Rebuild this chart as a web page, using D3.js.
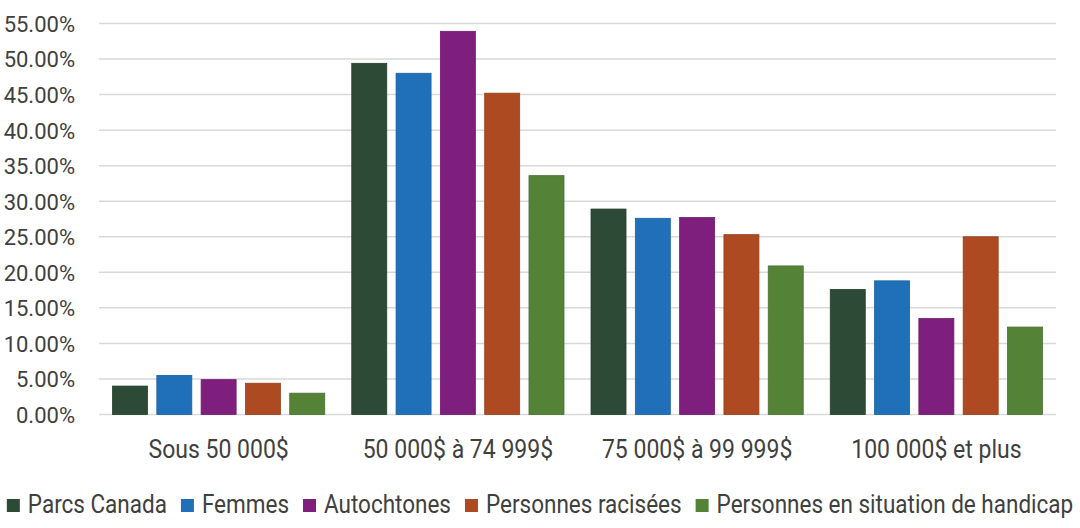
<!DOCTYPE html>
<html>
<head>
<meta charset="utf-8">
<script src="https://cdn.jsdelivr.net/npm/d3@7"></script>
<style>
  body { margin: 0; background: #fff; }
  svg text { font-family: Roboto, "Liberation Sans", sans-serif; fill: #404040; }
</style>
</head>
<body>
<div id="chart"></div>
<script>
// Data
const categories = ['Sous 50 000$', '50 000$ à 74 999$', '75 000$ à 99 999$', '100 000$ et plus'];
const seriesNames = ['Parcs Canada', 'Femmes', 'Autochtones', 'Personnes racisées', 'Personnes en situation de handicap'];
const parcsCanada = [4.0, 49.4, 28.9, 17.6];
const femmes = [5.5, 48.0, 27.6, 18.8];
const autochtones = [4.9, 53.9, 27.7, 13.5];
const racisees = [4.4, 45.2, 25.3, 25.0];
const handicap = [3.0, 33.6, 20.9, 12.3];
const yTicks = [0, 5, 10, 15, 20, 25, 30, 35, 40, 45, 50, 55];

const seriesValues = [parcsCanada, femmes, autochtones, racisees, handicap];
const colors = ['#2C4A35', '#1F70B8', '#7E1F7E', '#AD4A22', '#548237'];

const width = 1080, height = 528;
const margin = { top: 23.5, right: 24, bottom: 113.5, left: 99 };
const catSqueeze = 0.92, legendSqueeze = 0.9; // condensed look

const svg = d3.select('#chart').append('svg')
    .attr('width', width)
    .attr('height', height);

// Scales
const x0 = d3.scaleBand()
    .domain(categories)
    .range([margin.left, width - margin.right])
    .padding(0);

const x1 = d3.scaleBand()
    .domain(seriesNames)
    .range([0, x0.bandwidth()])
    .paddingInner(0.21)
    .paddingOuter(0.305);

const y = d3.scaleLinear()
    .domain([0, 55])
    .range([height - margin.bottom, margin.top]);

// Gridlines
svg.append('g')
    .selectAll('line')
    .data(yTicks)
    .join('line')
    .attr('x1', margin.left)
    .attr('x2', width - margin.right)
    .attr('y1', d => y(d))
    .attr('y2', d => y(d))
    .attr('stroke', '#d9d9d9')
    .attr('stroke-width', 1.5);

// Y axis labels
const yAxis = d3.axisLeft(y)
    .tickValues(yTicks)
    .tickSize(0)
    .tickPadding(24)
    .tickFormat(d => d.toFixed(2) + '%');

svg.append('g')
    .attr('transform', `translate(${margin.left},0)`)
    .call(yAxis)
    .call(g => g.select('.domain').remove())
    .selectAll('text')
    .attr('dy', '0.36em')
    .style('font-size', '22px');

// Bars
const groups = svg.append('g')
    .selectAll('g')
    .data(categories)
    .join('g')
    .attr('transform', d => `translate(${x0(d)},0)`);

groups.selectAll('rect')
    .data((c, ci) => seriesNames.map((s, si) => ({ series: s, value: seriesValues[si][ci], color: colors[si] })))
    .join('rect')
    .attr('x', d => x1(d.series))
    .attr('width', x1.bandwidth())
    .attr('y', d => y(d.value))
    .attr('height', d => y(0) - y(d.value))
    .attr('fill', d => d.color)
    .attr('stroke', d => d3.color(d.color).darker(0.4))
    .attr('stroke-width', 0.8);

// X axis labels
svg.append('g')
    .selectAll('text')
    .data(categories)
    .join('text')
    .attr('transform', d => `translate(${x0(d) + x0.bandwidth() / 2},458) scale(${catSqueeze},1)`)
    .attr('text-anchor', 'middle')
    .style('font-size', '25px')
    .text(d => d);

// Legend
const legend = svg.append('g');
const items = legend.selectAll('g')
    .data(seriesNames)
    .join('g');

items.append('rect')
    .attr('width', 13)
    .attr('height', 13)
    .attr('y', 499)
    .attr('fill', (d, i) => colors[i]);

const legendText = items.append('text')
    .attr('transform', `translate(21,513) scale(${legendSqueeze},1)`)
    .style('font-size', '25px')
    .text(d => d);

let offset = 0;
const positions = [];
legendText.each(function() {
    positions.push(offset);
    offset += 21 + this.getComputedTextLength() * legendSqueeze + 14;
});
const totalWidth = offset - 14;
const startX = (width - totalWidth) / 2;
items.attr('transform', (d, i) => `translate(${startX + positions[i]},0)`);
</script>
</body>
</html>
